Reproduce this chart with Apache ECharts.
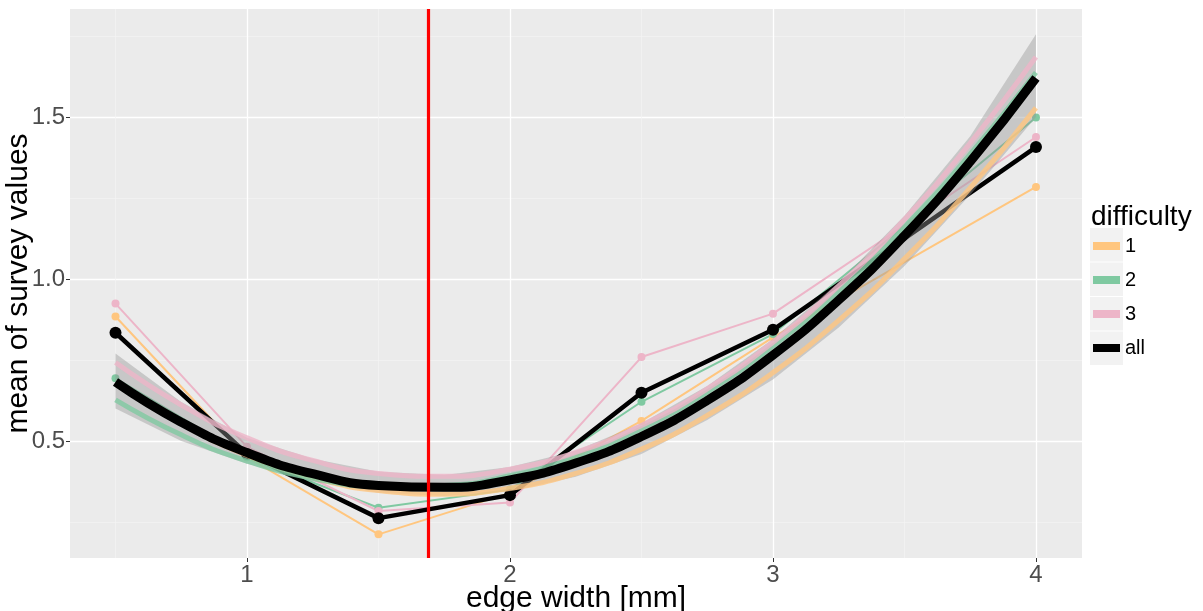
<!DOCTYPE html>
<html>
<head>
<meta charset="utf-8">
<script src="https://cdn.jsdelivr.net/npm/echarts@6/dist/echarts.min.js"></script>
<style>
  html, body { margin: 0; background: #fff; }
  #chart { width: 1203px; height: 611px; }
</style>
</head>
<body>
<div id="chart"></div>
<script>
// measured edge widths and mean survey values per difficulty
const widths = [0.5, 1, 1.5, 2, 2.5, 3, 4];
const mean1 = [0.884, 0.45, 0.212, 0.34, 0.562, 0.82, 1.284];
const mean2 = [0.694, 0.45, 0.294, 0.35, 0.621, 0.83, 1.498];
const mean3 = [0.924, 0.482, 0.284, 0.31, 0.759, 0.893, 1.438];
const meanAll = [0.834, 0.46, 0.262, 0.333, 0.649, 0.843, 1.407];

// smoothed curves
const fitX = [0.5, 0.75, 1, 1.25, 1.5, 1.75, 2, 2.25, 2.5, 2.75, 3, 3.25, 3.5, 3.75, 4];
const fit1 = [0.680, 0.554, 0.456, 0.387, 0.347, 0.336, 0.354, 0.400, 0.475, 0.579, 0.711, 0.872, 1.062, 1.281, 1.528];
const fit2 = [0.627, 0.519, 0.438, 0.385, 0.360, 0.363, 0.393, 0.452, 0.538, 0.651, 0.793, 0.962, 1.160, 1.385, 1.637];
const fit3 = [0.742, 0.611, 0.510, 0.440, 0.400, 0.391, 0.413, 0.465, 0.548, 0.661, 0.805, 0.979, 1.184, 1.419, 1.685];
const fitAll = [0.682, 0.558, 0.464, 0.399, 0.363, 0.357, 0.380, 0.432, 0.514, 0.625, 0.765, 0.935, 1.134, 1.362, 1.620];
const bandLow = [0.60, 0.50, 0.43, 0.375, 0.34, 0.33, 0.345, 0.39, 0.46, 0.565, 0.69, 0.85, 1.04, 1.26, 1.50];
const bandHigh = [0.77, 0.62, 0.51, 0.445, 0.405, 0.395, 0.42, 0.47, 0.555, 0.67, 0.815, 0.99, 1.195, 1.44, 1.755];

const optimum = 1.686;
const xTicks = [1, 2, 3, 4];
const xMinor = [0.5, 1.5, 2.5, 3.5];
const yTicks = [0.5, 1.0, 1.5];
const yMinor = [0.25, 0.75, 1.25, 1.75];

const colors = { '1': '#FFC67F', '2': '#7FC9A1', '3': '#EDB5C8', 'all': '#000000' };
const font = 'Liberation Sans, Arial, sans-serif';

const pairs = (xs, ys) => xs.map((x, i) => [x, ys[i]]);

function groupLine(name, ys) {
  return {
    name: name, type: 'line', data: pairs(widths, ys),
    symbol: 'circle', symbolSize: 8, z: 2,
    lineStyle: { width: 2, color: colors[name] },
    itemStyle: { color: colors[name] },
    emphasis: { disabled: true }, animation: false
  };
}
function groupFit(name, ys, width, opacity, z) {
  return {
    name: name, type: 'line', data: pairs(fitX, ys),
    smooth: true, showSymbol: false, z: z,
    lineStyle: { width: width, color: colors[name], opacity: opacity, cap: 'butt' },
    itemStyle: { color: colors[name] },
    emphasis: { disabled: true }, animation: false
  };
}

const chart = echarts.init(document.getElementById('chart'));
const axisBase = { type: 'value', axisLine: { show: false } };

chart.setOption({
  animation: false,
  textStyle: { fontFamily: font },
  grid: {
    left: 70, top: 9, right: 121, bottom: 53, outerBoundsMode: 'none',
    show: true, backgroundColor: '#EBEBEB', borderWidth: 0
  },
  title: {
    text: 'difficulty', left: 1091, top: 203, padding: 0,
    textStyle: { fontSize: 28, fontWeight: 'normal', color: '#000', fontFamily: font }
  },
  legend: {
    orient: 'vertical', left: 1093, top: 236, itemGap: 14, padding: 0,
    itemWidth: 27, itemHeight: 8,
    textStyle: { fontSize: 20, color: '#000', fontFamily: font },
    data: [
      { name: '1', icon: 'rect', itemStyle: { color: colors['1'] } },
      { name: '2', icon: 'rect', itemStyle: { color: colors['2'] } },
      { name: '3', icon: 'rect', itemStyle: { color: colors['3'] } },
      { name: 'all', icon: 'rect', itemStyle: { color: colors['all'] } }
    ]
  },
  graphic: [
    { type: 'rect', z: -1, shape: { x: 1090, y: 228, width: 33, height: 33.5 }, style: { fill: '#F2F2F2' } },
    { type: 'rect', z: -1, shape: { x: 1090, y: 262.5, width: 33, height: 33.5 }, style: { fill: '#F2F2F2' } },
    { type: 'rect', z: -1, shape: { x: 1090, y: 297, width: 33, height: 33.5 }, style: { fill: '#F2F2F2' } },
    { type: 'rect', z: -1, shape: { x: 1090, y: 331.5, width: 33, height: 33.5 }, style: { fill: '#F2F2F2' } }
  ],
  xAxis: [
    Object.assign({}, axisBase, {
      min: 0.327, max: 4.175,
      name: 'edge width [mm]', nameLocation: 'middle', nameGap: 26, nameMoveOverlap: false,
      nameTextStyle: { fontSize: 30, color: '#000', fontFamily: font },
      axisTick: { customValues: xTicks, length: 4, lineStyle: { color: '#333', width: 1 } },
      axisLabel: { customValues: xTicks, fontSize: 24, color: '#4D4D4D', margin: 5 },
      splitLine: { show: true, lineStyle: { color: '#FFFFFF', width: 1.3 } }
    }),
    Object.assign({}, axisBase, {
      min: 0.327, max: 4.175, position: 'bottom',
      axisTick: { show: false, customValues: xMinor },
      axisLabel: { show: false, customValues: xMinor },
      splitLine: { show: true, lineStyle: { color: '#F4F4F4', width: 0.7 } }
    })
  ],
  yAxis: [
    Object.assign({}, axisBase, {
      min: 0.139, max: 1.833,
      name: 'mean of survey values', nameLocation: 'middle', nameGap: 36, nameMoveOverlap: false,
      nameTextStyle: { fontSize: 30, color: '#000', fontFamily: font },
      axisTick: { customValues: yTicks, length: 4, lineStyle: { color: '#333', width: 1 } },
      axisLabel: { customValues: yTicks, fontSize: 24, color: '#4D4D4D', margin: 5,
        formatter: v => v.toFixed(1) },
      splitLine: { show: true, lineStyle: { color: '#FFFFFF', width: 1.3 } }
    }),
    Object.assign({}, axisBase, {
      min: 0.139, max: 1.833,
      axisTick: { show: false, customValues: yMinor },
      axisLabel: { show: false, customValues: yMinor },
      splitLine: { show: true, lineStyle: { color: '#F4F4F4', width: 0.7 } }
    })
  ],
  series: [
    groupLine('1', mean1),
    groupLine('2', mean2),
    groupLine('3', mean3),
    {
      name: 'all', type: 'line', data: pairs(widths, meanAll),
      symbol: 'circle', symbolSize: 12, z: 3,
      lineStyle: { width: 4.5, color: '#000' }, itemStyle: { color: '#000' },
      emphasis: { disabled: true }, animation: false
    },
    {
      // confidence ribbon of the overall fit
      name: 'band', type: 'custom', z: 4, silent: true, animation: false,
      data: fitX.map((x, i) => [x, bandLow[i], bandHigh[i]]),
      encode: { x: 0, y: [1, 2] },
      renderItem: function (params, api) {
        if (params.dataIndex !== 0) return null;
        const pts = [];
        for (let i = 0; i < fitX.length; i++) pts.push(api.coord([fitX[i], bandHigh[i]]));
        for (let i = fitX.length - 1; i >= 0; i--) pts.push(api.coord([fitX[i], bandLow[i]]));
        return { type: 'polygon', shape: { points: pts }, style: { fill: 'rgba(150,150,150,0.42)' } };
      }
    },
    groupFit('1', fit1, 5, 0.8, 5),
    groupFit('2', fit2, 5, 0.8, 5),
    groupFit('3', fit3, 5, 0.8, 5),
    Object.assign(groupFit('all', fitAll, 9, 1, 6), {
      markLine: {
        silent: true, symbol: 'none', z: 10, animation: false,
        label: { show: false },
        lineStyle: { color: '#FF0000', width: 3.2, type: 'solid', opacity: 1 },
        emphasis: { disabled: true },
        data: [{ xAxis: optimum }]
      }
    })
  ]
});
</script>
</body>
</html>
